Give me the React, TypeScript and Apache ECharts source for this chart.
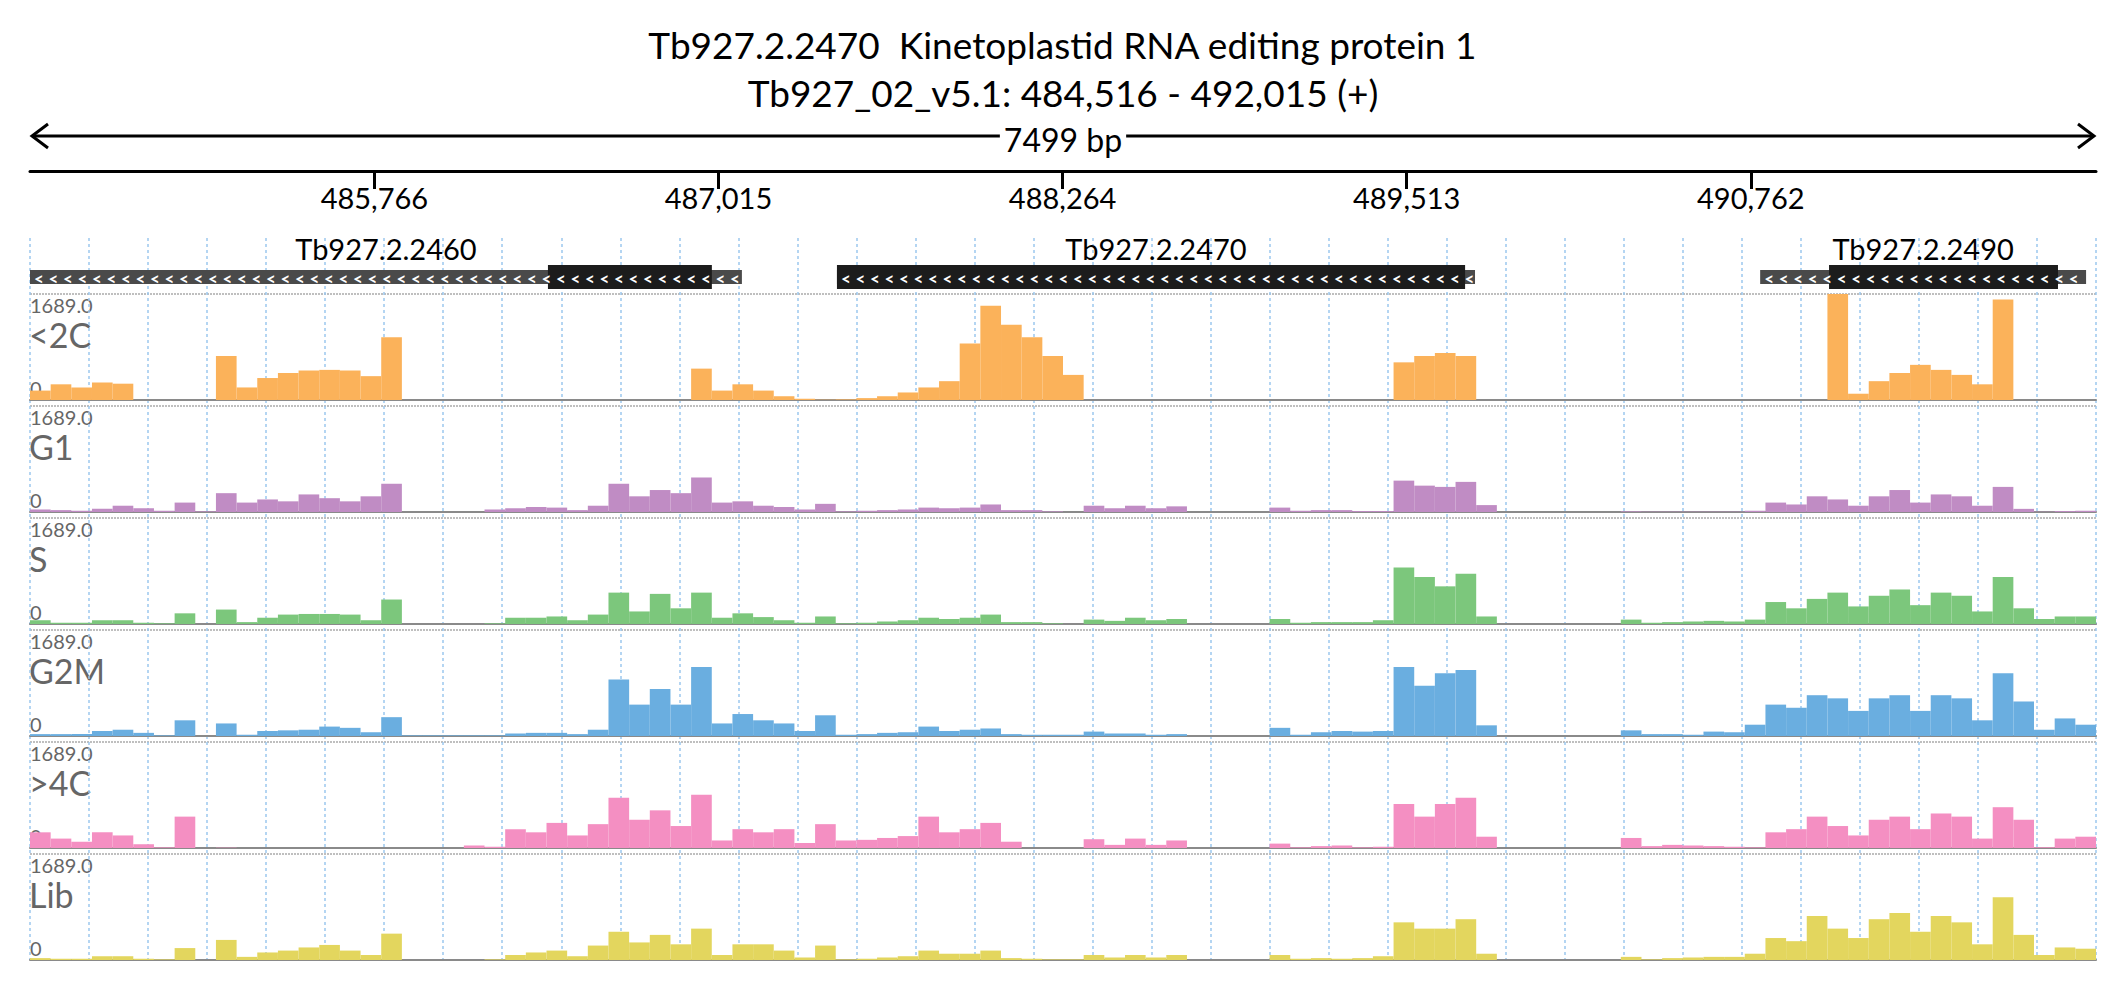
import { useEffect, useRef } from "react";
import * as echarts from "echarts";

const START = 484516;
const END = 492015;
const Y_MAX = 1689;
const TICKS = [485766, 487015, 488264, 489513, 490762];

// 100 bins of 75 bp each
const trackNames = ["<2C", "G1", "S", "G2M", ">4C", "Lib"];
const trackColors = ["#fbb25a", "#c08cc4", "#7cc77c", "#6aaee0", "#f48fc2", "#e3d65e"];

const cov2C = [150, 250, 200, 280, 260, 0, 0, 0, 0, 700, 200, 350, 430, 470, 480, 470, 380, 1000, 0, 0,
  0, 0, 0, 0, 0, 0, 0, 0, 0, 0, 0, 0, 500, 150, 250, 150, 60, 20, 5, 10,
  30, 60, 120, 200, 300, 900, 1500, 1200, 1000, 700, 400, 0, 0, 0, 0, 0, 0, 0, 0, 0,
  0, 0, 0, 0, 0, 0, 600, 700, 750, 700, 0, 0, 0, 0, 0, 0, 0, 0, 0, 0,
  0, 0, 0, 0, 0, 0, 0, 1689, 100, 300, 430, 560, 480, 400, 250, 1600, 0, 0, 0, 0];
const covG1 = [40, 30, 20, 50, 100, 60, 20, 150, 10, 300, 150, 200, 170, 280, 220, 170, 250, 450, 0, 0,
  0, 0, 40, 60, 80, 70, 30, 100, 450, 250, 350, 300, 550, 150, 170, 100, 80, 40, 130, 10,
  20, 30, 40, 70, 60, 70, 120, 30, 30, 10, 0, 100, 60, 100, 60, 90, 0, 0, 0, 0,
  70, 20, 30, 30, 15, 15, 500, 420, 400, 480, 110, 0, 0, 0, 0, 0, 0, 10, 5, 5,
  5, 5, 5, 20, 150, 120, 250, 200, 100, 250, 350, 150, 280, 250, 100, 400, 50, 5, 15, 20];
const covS = [60, 20, 20, 60, 60, 20, 10, 170, 0, 230, 30, 100, 150, 160, 160, 150, 60, 390, 0, 0,
  0, 0, 10, 100, 100, 120, 60, 150, 500, 200, 480, 250, 500, 100, 170, 110, 60, 20, 120, 10,
  20, 40, 60, 100, 80, 100, 150, 30, 30, 10, 0, 70, 50, 100, 60, 80, 0, 0, 0, 0,
  80, 20, 30, 30, 30, 60, 900, 750, 600, 800, 120, 0, 0, 0, 0, 0, 0, 70, 20, 30,
  40, 50, 40, 70, 350, 250, 400, 500, 280, 450, 550, 300, 500, 450, 200, 750, 250, 80, 120, 120];
const covG2M = [30, 30, 30, 80, 100, 50, 10, 250, 0, 200, 20, 80, 90, 100, 150, 130, 60, 300, 10, 10,
  10, 10, 10, 40, 50, 50, 30, 100, 900, 500, 750, 500, 1100, 200, 350, 250, 200, 80, 330, 20,
  30, 50, 60, 150, 80, 100, 120, 30, 20, 20, 20, 70, 40, 40, 20, 30, 0, 0, 0, 0,
  130, 20, 60, 80, 70, 80, 1100, 800, 1000, 1050, 170, 0, 0, 0, 0, 0, 0, 90, 30, 30,
  20, 70, 60, 180, 500, 450, 650, 600, 400, 600, 650, 400, 650, 600, 250, 1000, 550, 100, 280, 180];
const cov4C = [250, 150, 100, 250, 200, 60, 10, 500, 0, 5, 0, 0, 0, 0, 0, 0, 0, 0, 0, 0,
  0, 40, 20, 300, 250, 400, 200, 380, 800, 450, 600, 350, 850, 120, 300, 250, 300, 80, 380, 120,
  130, 160, 190, 500, 250, 300, 400, 100, 0, 0, 0, 140, 50, 150, 50, 120, 0, 0, 0, 0,
  70, 10, 30, 40, 10, 20, 700, 500, 700, 800, 180, 0, 0, 0, 0, 0, 0, 160, 30, 50,
  40, 30, 20, 10, 250, 300, 500, 350, 200, 450, 500, 300, 550, 500, 150, 650, 450, 10, 150, 180];
const covLib = [30, 20, 20, 60, 60, 20, 10, 190, 0, 320, 50, 120, 150, 200, 240, 150, 80, 420, 0, 0,
  0, 0, 10, 80, 120, 150, 60, 230, 450, 280, 400, 250, 500, 80, 250, 250, 150, 40, 230, 10,
  20, 40, 60, 150, 100, 100, 150, 30, 20, 10, 10, 80, 40, 80, 40, 80, 0, 0, 0, 0,
  80, 20, 30, 20, 30, 60, 600, 500, 500, 650, 100, 0, 0, 0, 0, 0, 0, 50, 10, 30,
  40, 50, 50, 100, 350, 300, 700, 500, 350, 650, 750, 450, 700, 600, 250, 1000, 400, 80, 200, 180];
const coverage = [cov2C, covG1, covS, covG2M, cov4C, covLib];

// genes: [start, end, cdsStart, cdsEnd]
const geneNames = ["Tb927.2.2460", "Tb927.2.2470", "Tb927.2.2490"];
const geneSpans = [
  [484516, 487100, 486396, 486991],
  [487445, 489761, 487445, 489725],
  [490796, 491979, 491046, 491877],
];

const LEFT = 30;
const WIDTH = 2066;
const TRACK_TOP = 294;
const TRACK_STEP = 112;
const TRACK_H = 106;
const FONT = "Lato, 'Open Sans', sans-serif";

export default function App() {
  const ref = useRef<HTMLDivElement | null>(null);

  useEffect(() => {
    if (!ref.current) return;
    const chart = echarts.init(ref.current, undefined, { renderer: "svg" });
    const bins = cov2C.map((_, i) => String(START + i * 75));

    const grids: any[] = [
      { left: LEFT, width: WIDTH, top: 170, height: 1 },
      { left: LEFT, width: WIDTH, top: 240, height: 60 },
      { left: LEFT, width: WIDTH, top: 238, height: 722, z: 0 },
    ];
    const xAxes: any[] = [
      {
        gridIndex: 0, type: "value", min: START, max: END, position: "bottom",
        axisLine: { lineStyle: { color: "#000", width: 3 } },
        axisTick: { customValues: TICKS, length: 18, lineStyle: { color: "#000", width: 3 } },
        axisLabel: { customValues: TICKS, formatter: (v: number) => v.toLocaleString("en-US"), color: "#000", fontSize: 29, fontFamily: FONT, margin: 12 },
        splitLine: { show: false },
      },
      { gridIndex: 1, type: "value", min: START, max: END, show: false },
      {
        gridIndex: 2, type: "value", min: 0, max: 35, interval: 1,
        axisLine: { show: false }, axisTick: { show: false }, axisLabel: { show: false },
        splitLine: { show: true, lineStyle: { color: "#9cc8ee", type: [3, 3], width: 1.5 } },
      },
    ];
    const yAxes: any[] = [
      { gridIndex: 0, show: false, min: 0, max: 1 },
      { gridIndex: 1, show: false, min: 0, max: 1 },
      { gridIndex: 2, show: false, min: 0, max: 1 },
    ];
    const series: any[] = [
      {
        type: "custom", xAxisIndex: 1, yAxisIndex: 1, z: 5,
        data: geneSpans.map((g, i) => [...g, i]),
        renderItem: (_p: any, api: any) => {
          const s = api.coord([api.value(0), 0.5]);
          const e = api.coord([api.value(1), 0.5]);
          const cs = api.coord([api.value(2), 0.5]);
          const ce = api.coord([api.value(3), 0.5]);
          const cy = 277;
          const children: any[] = [
            { type: "rect", shape: { x: s[0], y: cy - 7, width: e[0] - s[0], height: 14 }, style: { fill: "#4a4a4a" } },
            { type: "rect", shape: { x: cs[0], y: cy - 12, width: ce[0] - cs[0], height: 24 }, style: { fill: "#1c1c1c" } },
          ];
          for (let x = s[0] + 4; x < e[0] - 8; x += 14.5) {
            children.push({ type: "text", style: { x, y: cy + 1, text: "<", fill: "#fff", fontSize: 17, fontWeight: "bold", fontFamily: FONT, verticalAlign: "middle" } });
          }
          children.push({
            type: "text",
            style: { x: (s[0] + e[0]) / 2, y: 248, text: geneNames[api.value(4)], fill: "#000", fontSize: 29, fontFamily: FONT, align: "center", verticalAlign: "middle" },
          });
          return { type: "group", children };
        },
      },
    ];
    const graphics: any[] = [
      { type: "text", left: "center", top: 26, style: { text: "Tb927.2.2470  Kinetoplastid RNA editing protein 1", fontSize: 37, fontFamily: FONT, fill: "#000" } },
      { type: "text", left: "center", top: 74, style: { text: "Tb927_02_v5.1: 484,516 - 492,015 (+)", fontSize: 37, fontFamily: FONT, fill: "#000" } },
      { type: "line", shape: { x1: LEFT + 2, y1: 136, x2: LEFT + WIDTH - 2, y2: 136 }, style: { stroke: "#000", lineWidth: 3 } },
      { type: "polyline", shape: { points: [[LEFT + 18, 124], [LEFT + 2, 136], [LEFT + 18, 148]] }, style: { stroke: "#000", lineWidth: 3, fill: null } },
      { type: "polyline", shape: { points: [[LEFT + WIDTH - 18, 124], [LEFT + WIDTH - 2, 136], [LEFT + WIDTH - 18, 148]] }, style: { stroke: "#000", lineWidth: 3, fill: null } },
      { type: "text", x: LEFT + WIDTH / 2, y: 139, style: { text: "7499 bp", fontSize: 32, fontFamily: FONT, fill: "#000", align: "center", verticalAlign: "middle", backgroundColor: "#fff", padding: [0, 4] } },
    ];

    trackNames.forEach((name, i) => {
      const top = TRACK_TOP + i * TRACK_STEP;
      const gi = 3 + i;
      grids.push({ left: LEFT, width: WIDTH, top, height: TRACK_H });
      xAxes.push({
        gridIndex: gi, type: "category", data: bins,
        axisLine: { lineStyle: { color: "#8a8a8a", width: 2 } }, axisTick: { show: false }, axisLabel: { show: false },
      });
      yAxes.push({
        gridIndex: gi, type: "value", min: 0, max: Y_MAX, interval: Y_MAX,
        axisLabel: { show: false }, axisLine: { show: false }, axisTick: { show: false },
        splitLine: { show: true, lineStyle: { color: "#aaa", type: [2, 1], width: 1.5 } },
      });
      series.push({
        type: "bar", xAxisIndex: gi, yAxisIndex: gi, data: coverage[i], barWidth: "100%", z: 3,
        itemStyle: { color: trackColors[i] },
      });
      graphics.push(
        { type: "text", x: LEFT, y: top + 1, style: { text: "1689.0", fontSize: 20, fontFamily: FONT, fill: "#666" } },
        { type: "text", x: LEFT - 1, y: top + 23, style: { text: name, fontSize: 34, fontFamily: FONT, fill: "#666" } },
        { type: "text", x: LEFT, y: top + TRACK_H - 22, style: { text: "0", fontSize: 20, fontFamily: FONT, fill: "#666" } },
      );
    });

    chart.setOption({
      animation: false,
      backgroundColor: "#fff",
      grid: grids,
      xAxis: xAxes,
      yAxis: yAxes,
      series,
      graphic: graphics,
    });
    return () => chart.dispose();
  }, []);

  return <div ref={ref} style={{ position: "fixed", left: 0, top: 0, width: 2126, height: 1000 }} />;
}
